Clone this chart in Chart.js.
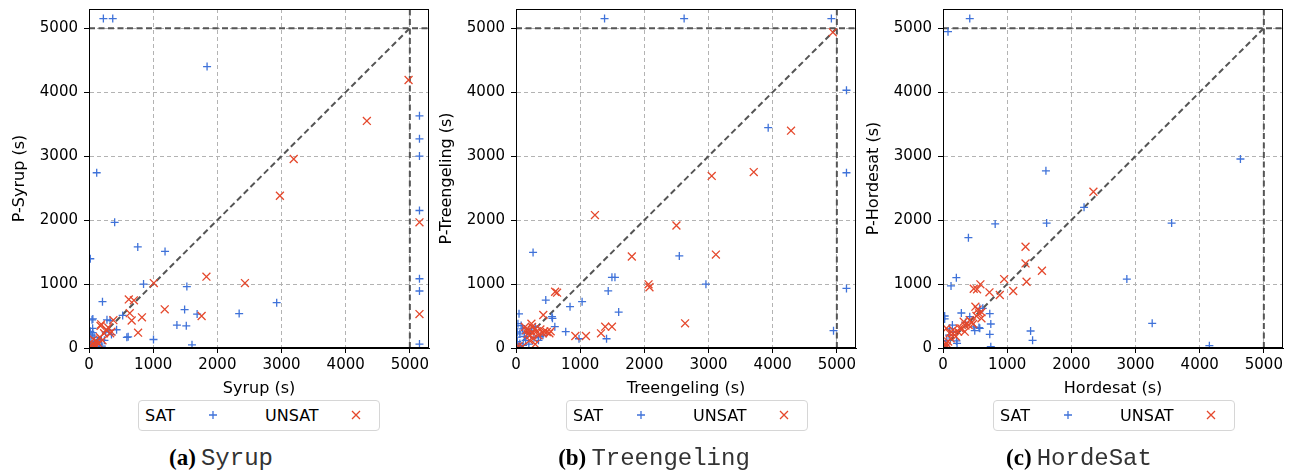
<!DOCTYPE html>
<html>
<head>
<meta charset="utf-8">
<script src="https://cdn.jsdelivr.net/npm/chart.js@4.4.0/dist/chart.umd.min.js"></script>
<style>
  body { margin: 0; background: #fff; }
  #wrap { position: relative; width: 1296px; height: 475px; overflow: hidden; font-family: 'DejaVu Sans', sans-serif; }
  canvas { position: absolute; top: 0; }
  .legend { position: absolute; top: 400px; width: 242px; height: 31px; border: 1px solid #d6d6d6; border-radius: 4px; box-sizing: border-box; font-size: 16px; color: #000; }
  .legend span, .legend svg { position: absolute; }
  .legend span { top: 5px; }
  .legend svg { top: 9px; }
  .caption { position: absolute; top: 445px; width: 320px; text-align: center; white-space: nowrap; color: #000; }
  .caption b { font-family: 'Liberation Serif', serif; font-size: 23px; }
  .caption code { font-family: 'Liberation Mono', monospace; font-size: 24px; color: #333; }
</style>
</head>
<body>
<div id="wrap">
  <canvas id="chartA" width="436" height="400" style="left:0px"></canvas>
  <canvas id="chartB" width="436" height="400" style="left:427px"></canvas>
  <canvas id="chartC" width="436" height="400" style="left:854px"></canvas>
</div>
<script>
// values (seconds)
const tickValues = [0, 1000, 2000, 3000, 4000, 5000];
const axisMax = 5300;
const diagonal = [[0, 0], [5000, 5000]];
const timeoutV = [[5000, 0], [5000, 5300]];
const timeoutH = [[0, 5000], [5300, 5000]];

const syrupSat = [[224,5150],[370,5150],[1840,4400],[120,2740],[400,1965],[760,1580],[1185,1510],[20,1395],[850,1000],[1525,960],[210,724],[1490,600],[2925,708],[2340,538],[1685,530],[1370,359],[1516,346],[1605,50],[1005,133],[5150,3630],[5150,3270],[5150,3000],[5150,2150],[5150,1083],[5150,891],[5150,62],[47,440],[60,455],[328,430],[525,510],[430,285],[57,307],[57,240],[590,167],[610,175],[193,135],[240,120],[310,280],[160,60],[100,30],[30,100],[80,170],[20,50],[130,110],[260,250],[350,210],[20,260],[45,200],[90,80],[200,30],[280,440]];
const syrupUnsat = [[4980,4190],[4330,3550],[3190,2955],[2975,2380],[5150,1965],[1830,1115],[2430,1015],[1010,1015],[1180,605],[1755,500],[5150,530],[620,760],[700,745],[635,545],[665,430],[825,480],[765,240],[380,435],[190,370],[330,230],[270,280],[180,345],[350,255],[120,100],[70,135],[20,30],[170,170],[235,230],[95,50],[145,75],[50,60],[110,20],[210,120],[300,320],[60,10]];

const treeSat = [[1380,5150],[2620,5150],[4915,5150],[5150,4030],[3930,3445],[5150,2740],[266,1495],[2545,1440],[1495,1105],[1542,1105],[2960,998],[5150,932],[1437,893],[1030,724],[842,646],[464,750],[1600,562],[775,255],[982,145],[1411,145],[4948,271],[47,535],[605,333],[560,490],[568,464],[30,380],[80,350],[20,250],[60,220],[130,180],[170,250],[240,300],[280,160],[350,120],[420,200],[20,100],[60,70],[110,40],[150,120],[200,60],[40,20],[100,300],[300,330],[380,180],[10,170]];
const treeUnsat = [[4938,4935],[4286,3398],[3705,2750],[3050,2690],[1230,2078],[2500,1915],[1805,1430],[3115,1460],[2065,995],[2080,950],[2635,385],[610,880],[640,865],[425,516],[925,188],[1090,188],[1325,229],[1390,333],[1495,333],[240,380],[300,300],[200,280],[260,240],[320,260],[380,290],[440,260],[480,250],[520,230],[540,260],[180,220],[140,330],[220,200],[270,150],[300,60],[210,120],[100,20],[40,30],[160,280],[350,200],[420,230],[250,330]];

const hordeSat = [[417,5150],[78,4945],[4635,2955],[1604,2770],[2198,2200],[1615,1953],[813,1940],[3563,1953],[396,1725],[208,1100],[125,970],[2865,1078],[3260,385],[4151,36],[1365,266],[1396,120],[729,536],[745,375],[729,214],[745,21],[286,547],[417,490],[573,620],[26,455],[26,500],[495,271],[219,73],[210,110],[95,200],[146,359],[573,307],[620,620],[350,400],[480,330],[160,250],[60,120],[40,50],[100,300],[560,320]];
const hordeUnsat = [[2344,2443],[1286,1583],[1286,1323],[1542,1208],[1302,1036],[953,1078],[1094,891],[885,828],[724,870],[583,995],[479,927],[531,917],[505,646],[563,542],[521,500],[469,375],[323,411],[260,307],[339,255],[156,281],[104,229],[52,73],[16,21],[53,307],[599,464],[417,437],[287,307],[234,255],[156,229],[200,180],[120,150],[80,100],[30,50],[60,30],[400,360],[450,400],[350,350],[540,600],[600,560]];

const SAT_COLOR = '#3f72d9';
const UNSAT_COLOR = '#e5482c';
const REF_COLOR = '#555555';

const tickFont = { family: 'DejaVu Sans', size: 15 };
const titleFont = { family: 'DejaVu Sans', size: 16 };

const toXY = pts => pts.map(p => ({ x: p[0], y: p[1] }));

// black frame round the plot area
const framePlugin = {
    id: 'frame',
    afterDraw(chart) {
        const a = chart.chartArea;
        const ctx = chart.ctx;
        ctx.save();
        ctx.strokeStyle = '#000';
        ctx.lineWidth = 1;
        ctx.strokeRect(Math.round(a.left) + 0.5, Math.round(a.top) + 0.5, Math.round(a.right - a.left) - 1, Math.round(a.bottom - a.top) - 1);
        ctx.restore();
    }
};

function refLine(data) {
    return {
        type: 'line', data: toXY(data), showLine: true, fill: false,
        borderColor: REF_COLOR, borderWidth: 2, borderDash: [6, 3.5],
        pointRadius: 0, order: 5
    };
}

const gridOpts = { color: '#b3b3b3', tickColor: '#000', tickLength: 5, tickBorderDash: [] };
// in v4 the dash of the grid lines is read from border.dash
const borderOpts = { color: '#000', dash: [4, 3] };

function makeChart(id, sat, unsat, xTitle, yTitle) {
    const ctx = document.getElementById(id).getContext('2d');
    return new Chart(ctx, {
        type: 'scatter',
        data: {
            datasets: [
                refLine(diagonal), refLine(timeoutV), refLine(timeoutH),
                {
                    label: 'SAT', data: toXY(sat), pointStyle: 'cross',
                    pointRadius: 4, pointBorderWidth: 1.3, borderColor: SAT_COLOR, backgroundColor: SAT_COLOR, order: 2
                },
                {
                    label: 'UNSAT', data: toXY(unsat), pointStyle: 'crossRot',
                    pointRadius: 5.6, pointBorderWidth: 1.3, borderColor: UNSAT_COLOR, backgroundColor: UNSAT_COLOR, order: 1
                }
            ]
        },
        options: {
            responsive: false,
            animation: false,
            devicePixelRatio: 1,
            layout: { padding: { left: 0, right: 3, top: 9, bottom: 0 } },
            plugins: { legend: { display: false }, tooltip: { enabled: false } },
            scales: {
                x: {
                    type: 'linear', min: 0, max: axisMax,
                    afterBuildTicks: s => { s.ticks = tickValues.map(v => ({ value: v })); },
                    afterFit: s => { s.height = 52; s.paddingLeft = 0; s.paddingRight = 0; },
                    ticks: { font: tickFont, color: '#000', padding: 3, maxRotation: 0, callback: v => String(v) },
                    grid: gridOpts,
                    border: borderOpts,
                    title: { display: true, text: xTitle, font: titleFont, color: '#000', padding: { top: 0, bottom: 2 } }
                },
                y: {
                    type: 'linear', min: 0, max: axisMax,
                    afterBuildTicks: s => { s.ticks = tickValues.map(v => ({ value: v })); },
                    afterFit: s => { s.width = 89; s.paddingTop = 0; s.paddingBottom = 0; },
                    ticks: { font: tickFont, color: '#000', padding: 6, callback: v => String(v) },
                    grid: gridOpts,
                    border: borderOpts,
                    title: { display: true, text: yTitle, font: titleFont, color: '#000', padding: { top: 10, bottom: 0 } }
                }
            }
        },
        plugins: [framePlugin]
    });
}

makeChart('chartA', syrupSat, syrupUnsat, 'Syrup (s)', 'P-Syrup (s)');
makeChart('chartB', treeSat, treeUnsat, 'Treengeling (s)', 'P-Treengeling (s)');
makeChart('chartC', hordeSat, hordeUnsat, 'Hordesat (s)', 'P-Hordesat (s)');

// legends and sub-captions
const panels = [
    { left: 138, tag: '(a)', name: 'Syrup', center: 221 },
    { left: 566, tag: '(b)', name: 'Treengeling', center: 654 },
    { left: 993, tag: '(c)', name: 'HordeSat', center: 1079 }
];
const wrap = document.getElementById('wrap');
const plusSvg = '<svg width="10" height="10" viewBox="0 0 10 10"><path d="M5 1V9M1 5H9" stroke="' + SAT_COLOR + '" stroke-width="1.3"/></svg>';
const crossSvg = '<svg width="10" height="10" viewBox="0 0 10 10"><path d="M1 1L9 9M9 1L1 9" stroke="' + UNSAT_COLOR + '" stroke-width="1.3"/></svg>';
panels.forEach(p => {
    const lg = document.createElement('div');
    lg.className = 'legend';
    lg.style.left = p.left + 'px';
    lg.innerHTML = '<span style="left:6px">SAT</span>' +
        plusSvg.replace('<svg', '<svg style="left:69px"') +
        '<span style="left:126px">UNSAT</span>' +
        crossSvg.replace('<svg', '<svg style="left:212px"');
    wrap.appendChild(lg);

    const cap = document.createElement('div');
    cap.className = 'caption';
    cap.style.left = (p.center - 160) + 'px';
    cap.innerHTML = '<b>' + p.tag + '</b>&nbsp;<code>' + p.name + '</code>';
    wrap.appendChild(cap);
});
</script>
</body>
</html>
